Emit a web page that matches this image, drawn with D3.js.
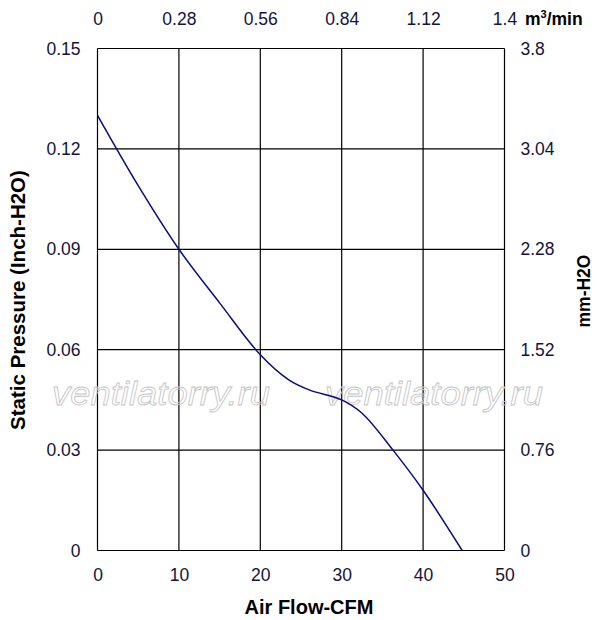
<!DOCTYPE html>
<html lang="en">
<head>
<meta charset="UTF-8">
<title>Fan P-Q curve</title>
<script src="https://d3js.org/d3.v7.min.js"></script>
<style>
  body { margin: 0; background: #fff; }
  svg { display: block; font-family: "Liberation Sans", Arial, sans-serif; }
  .tick-label { font-size: 17.5px; fill: #14143a; }
  .title { font-weight: bold; fill: #000; }
  .watermark { font-style: italic; fill: none; stroke: #c4c4c4; stroke-width: 0.8px; }
</style>
</head>
<body>
<svg id="chart" width="597" height="620"></svg>
<script>
// curve: air flow (CFM) vs static pressure (inch H2O)
const flowCfm = [0, 5, 10, 15, 20, 23.5, 26, 30, 32.5, 36.3, 40, 44.8];
const pressureInch = [0.130, 0.109, 0.090, 0.074, 0.0585, 0.051, 0.048, 0.045, 0.041, 0.030, 0.018, 0];

// axis ticks
const cfmTicks = [0, 10, 20, 30, 40, 50];
const m3Ticks = ['0', '0.28', '0.56', '0.84', '1.12', '1.4'];
const inchTicks = [0, 0.03, 0.06, 0.09, 0.12, 0.15];
const mmTicks = ['0', '0.76', '1.52', '2.28', '3.04', '3.8'];

const watermarkText = 'ventilatorry.ru';

const plotLeft = 97.5, plotRight = 504.5, plotTop = 48.5, plotBottom = 550.5;

const svg = d3.select('#chart');

const x = d3.scaleLinear().domain([0, 50]).range([plotLeft, plotRight]);
const y = d3.scaleLinear().domain([0, 0.15]).range([plotBottom, plotTop]);
// secondary scales share the grid positions
const xTop = d3.scalePoint().domain(m3Ticks).range([plotLeft, plotRight]);
const yRight = d3.scalePoint().domain(mmTicks).range([plotBottom, plotTop]);

// grid
const grid = svg.append('g').attr('stroke', '#000').attr('stroke-width', 1.2);
grid.selectAll('line.v')
    .data(cfmTicks)
    .enter()
    .append('line')
    .attr('class', 'v')
    .attr('x1', d => x(d)).attr('x2', d => x(d))
    .attr('y1', plotTop).attr('y2', plotBottom);
grid.selectAll('line.h')
    .data(inchTicks)
    .enter()
    .append('line')
    .attr('class', 'h')
    .attr('y1', d => y(d)).attr('y2', d => y(d))
    .attr('x1', plotLeft).attr('x2', plotRight);

// watermark (outlined, grid shows through)
[52, 325].forEach(wx => {
    svg.append('text')
        .attr('class', 'watermark')
        .attr('x', wx)
        .attr('y', 405)
        .attr('font-size', 34)
        .attr('textLength', 218)
        .attr('lengthAdjust', 'spacingAndGlyphs')
        .text(watermarkText);
});

// axes (labels only, the grid draws the lines)
function styleAxis(g) {
    g.attr('font-size', null).attr('font-family', null);
    g.select('.domain').remove();
    g.selectAll('.tick line').remove();
    g.selectAll('.tick text').attr('class', 'tick-label').attr('fill', null);
}

svg.append('g')
    .attr('transform', `translate(0,${plotBottom + 15})`)
    .call(d3.axisBottom(x).tickValues(cfmTicks).tickFormat(d3.format('d')).tickSize(0))
    .call(styleAxis)
    .selectAll('text').attr('dy', '0.71em');

svg.append('g')
    .attr('transform', `translate(0,${plotTop - 21})`)
    .call(d3.axisTop(xTop).tickSize(0))
    .call(styleAxis)
    .selectAll('text').attr('dy', 0);

svg.append('g')
    .attr('transform', `translate(${plotLeft - 14},0)`)
    .call(d3.axisLeft(y).tickValues(inchTicks).tickFormat(d => d === 0 ? '0' : d3.format('.2f')(d)).tickSize(0))
    .call(styleAxis);

svg.append('g')
    .attr('transform', `translate(${plotRight + 13},0)`)
    .call(d3.axisRight(yRight).tickSize(0))
    .call(styleAxis);

// curve
const line = d3.line()
    .x((d, i) => x(flowCfm[i]))
    .y(d => y(d))
    .curve(d3.curveCatmullRom.alpha(0.5));

svg.append('path')
    .datum(pressureInch)
    .attr('d', line)
    .attr('fill', 'none')
    .attr('stroke', '#0a0a80')
    .attr('stroke-width', 1.5);

// titles
svg.append('text')
    .attr('class', 'title')
    .attr('x', 309)
    .attr('y', 614)
    .attr('text-anchor', 'middle')
    .attr('font-size', 20)
    .text('Air Flow-CFM');

svg.append('text')
    .attr('class', 'title')
    .attr('transform', 'translate(25,300) rotate(-90)')
    .attr('text-anchor', 'middle')
    .attr('font-size', 20.5)
    .text('Static Pressure (Inch-H2O)');

svg.append('text')
    .attr('class', 'title')
    .attr('transform', 'translate(590,291) rotate(-90)')
    .attr('text-anchor', 'middle')
    .attr('font-size', 17.5)
    .text('mm-H2O');

const unit = svg.append('text')
    .attr('class', 'title')
    .attr('x', 525)
    .attr('y', 25)
    .attr('font-size', 17.5);
unit.append('tspan').text('m');
unit.append('tspan').attr('font-size', 11).attr('dy', -7).text('3');
unit.append('tspan').attr('dy', 7).text('/min');
</script>
</body>
</html>
